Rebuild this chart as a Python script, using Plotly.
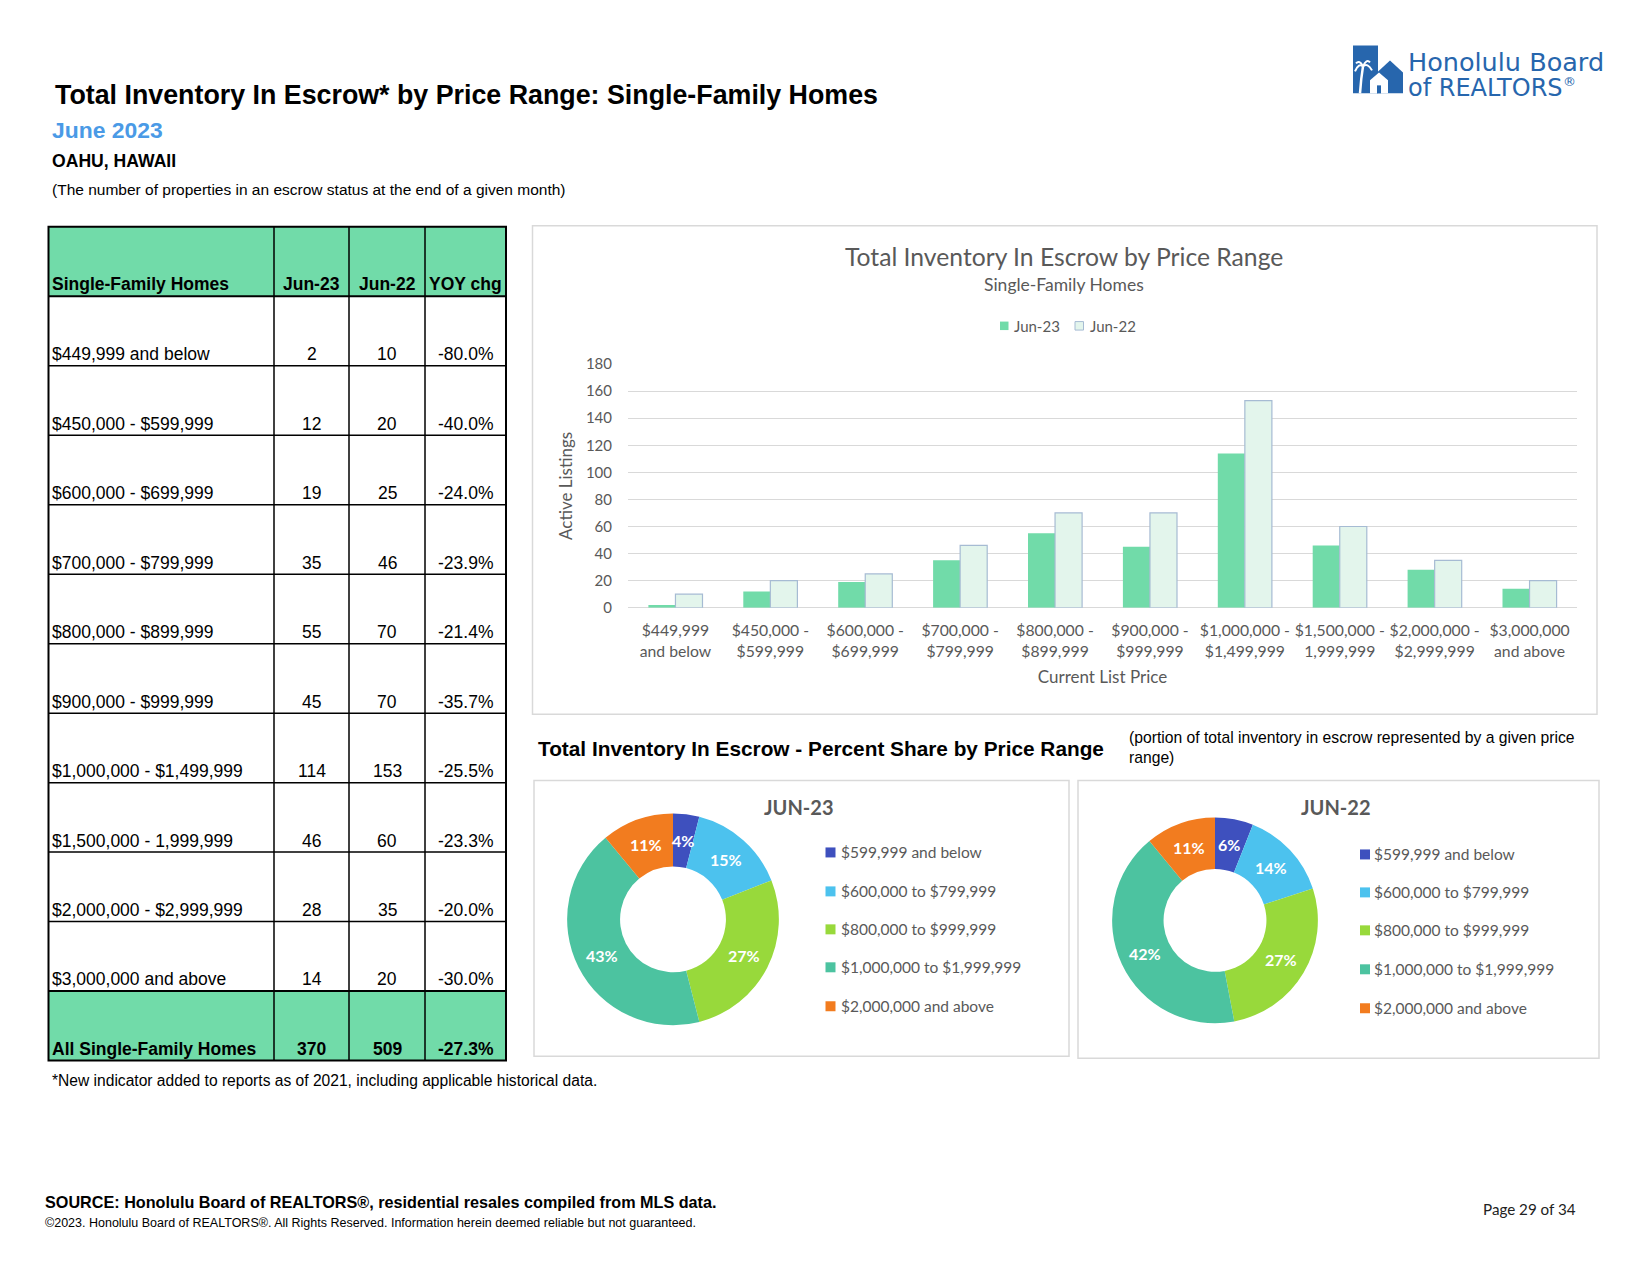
import math
import plotly.graph_objects as go

W, H = 1650, 1275

# ---------------- data ----------------
price_ranges = ["$449,999 and below", "$450,000 - $599,999", "$600,000 - $699,999",
                "$700,000 - $799,999", "$800,000 - $899,999", "$900,000 - $999,999",
                "$1,000,000 - $1,499,999", "$1,500,000 - 1,999,999",
                "$2,000,000 - $2,999,999", "$3,000,000 and above"]
bar_labels = ["$449,999<br>and below", "$450,000 -<br>$599,999", "$600,000 -<br>$699,999",
              "$700,000 -<br>$799,999", "$800,000 -<br>$899,999", "$900,000 -<br>$999,999",
              "$1,000,000 -<br>$1,499,999", "$1,500,000 -<br>1,999,999",
              "$2,000,000 -<br>$2,999,999", "$3,000,000<br>and above"]
jun23 = [2, 12, 19, 35, 55, 45, 114, 46, 28, 14]
jun22 = [10, 20, 25, 46, 70, 70, 153, 60, 35, 20]
yoy = ["-80.0%", "-40.0%", "-24.0%", "-23.9%", "-21.4%", "-35.7%", "-25.5%",
       "-23.3%", "-20.0%", "-30.0%"]
total_label = "All Single-Family Homes"
total_jun23 = 370
total_jun22 = 509
total_yoy = "-27.3%"
table_header = ["Single-Family Homes", "Jun-23", "Jun-22", "YOY chg"]
series_names = ["Jun-23", "Jun-22"]
y_ticks = [0, 20, 40, 60, 80, 100, 120, 140, 160, 180]

share_labels = ["$599,999 and below", "$600,000 to $799,999", "$800,000 to $999,999",
                "$1,000,000 to $1,999,999", "$2,000,000 and above"]
share_jun23 = [4, 15, 27, 43, 11]
share_jun22 = [6, 14, 27, 42, 11]

# ---------------- styles ----------------
ARIAL = "Liberation Sans, Arial, sans-serif"
CAL = "Lato, Open Sans, sans-serif"
GRAY = "#595959"
GREEN = "#71DBA9"
LIGHT = "#E3F5EC"
LIGHT_LINE = "#A6BBD3"
share_colors = ["#3E50BE", "#4CC2EE", "#98D93B", "#4CC3A0", "#F27C1F"]
BOX = "#D9D9D9"

# vertical calibration of the page layout
SY, OY = 1.0131, -9.67


def X(px):
    return px / W


def Y(py):
    return 1 - (py * SY + OY) / H


shapes = []
anns = []


def txt(x, y, text, size, color="black", family=ARIAL, xanchor="left", yanchor="middle"):
    anns.append(dict(x=X(x), y=Y(y), xref="paper", yref="paper", text=text,
                     showarrow=False, xanchor=xanchor, yanchor=yanchor,
                     font=dict(size=size, color=color, family=family), align="left"))


def rect(x0, y0, x1, y1, fill=None, line=None, lw=1.0, layer="above"):
    shapes.append(dict(type="rect", xref="paper", yref="paper",
                       x0=X(x0), x1=X(x1), y0=Y(y1), y1=Y(y0),
                       fillcolor=fill if fill else "rgba(0,0,0,0)",
                       line=dict(color=line if line else "rgba(0,0,0,0)", width=lw if line else 0),
                       layer=layer))


def hline(x0, x1, y, lw=1.5, color="black"):
    shapes.append(dict(type="line", xref="paper", yref="paper", x0=X(x0), x1=X(x1),
                       y0=Y(y), y1=Y(y), line=dict(color=color, width=lw)))


def vline(x, y0, y1, lw=1.5, color="black"):
    shapes.append(dict(type="line", xref="paper", yref="paper", x0=X(x), x1=X(x),
                       y0=Y(y0), y1=Y(y1), line=dict(color=color, width=lw)))


# ---------------- page header ----------------
txt(53, 95, "<b>Total Inventory In Escrow* by Price Range: Single-Family Homes</b>", 26.8)
txt(49.5, 130, "<b>June 2023</b>", 22.9, color="#4A9AE6")
txt(49.5, 161, "<b>OAHU, HAWAII</b>", 17.6)
txt(49.5, 189.5, "(The number of properties in an escrow status at the end of a given month)", 15.5)

# logo
LOGO = "#2766AD"
rect(1353, 45, 1378, 93, fill=LOGO)
shapes.append(dict(type="path", xref="paper", yref="paper", fillcolor=LOGO, line=dict(width=0),
                   path=f"M {X(1377)},{Y(93)} L {X(1377)},{Y(72)} L {X(1390)},{Y(60)} "
                        f"L {X(1403)},{Y(72)} L {X(1403)},{Y(93)} Z"))
shapes.append(dict(type="path", xref="paper", yref="paper", fillcolor="white", line=dict(width=0),
                   path=f"M {X(1370)},{Y(93)} L {X(1370)},{Y(80)} L {X(1379)},{Y(72)} "
                        f"L {X(1388)},{Y(80)} L {X(1388)},{Y(93)} Z"))
rect(1377, 85, 1381, 93, fill=LOGO)
shapes.append(dict(type="path", xref="paper", yref="paper", line=dict(color="white", width=2.5),
                   path=f"M {X(1360)},{Y(93)} Q {X(1361)},{Y(78)} {X(1363)},{Y(66)}"))
for (ex, ey) in [(1355, 71), (1356, 63), (1370, 62), (1372, 70)]:
    shapes.append(dict(type="path", xref="paper", yref="paper", line=dict(color="white", width=2),
                       path=f"M {X(1363)},{Y(66)} Q {X((1363 + ex) / 2)},{Y(min(ey, 66) - 4)} {X(ex)},{Y(ey)}"))
txt(1406, 61.5, "Honolulu Board", 25.5, color=LOGO, family="DejaVu Sans")
txt(1406, 87.5, "of REALTORS", 24, color=LOGO, family="DejaVu Sans")
txt(1561, 81, "®", 13, color=LOGO, family="DejaVu Sans")

# ---------------- table ----------------
cx = [48.5, 274, 349, 425, 506]
t_top = 226.6
h_bot = 296.2
row_h = 69.56
d_bot = h_bot + row_h * len(price_ranges)
t_bot = d_bot + row_h

rect(cx[0], t_top, cx[-1], h_bot, fill=GREEN, layer="below")
rect(cx[0], d_bot, cx[-1], t_bot, fill=GREEN, layer="below")
for i in range(len(price_ranges) + 1):
    yy = h_bot + i * row_h
    hline(cx[0], cx[-1], yy, lw=2 if i in (0, len(price_ranges)) else 1.5)
for xx in cx[1:-1]:
    vline(xx, t_top, t_bot, lw=1.5)
rect(cx[0], t_top, cx[-1], t_bot, line="black", lw=2)

col_c = [(cx[i] + cx[i + 1]) / 2 for i in range(4)]
FS = 17.5
ty = h_bot - 12.5
txt(49.5, ty, "<b>" + table_header[0] + "</b>", FS)
for j in range(1, 4):
    txt(col_c[j], ty, "<b>" + table_header[j] + "</b>", FS, xanchor="center")
for i, lab in enumerate(price_ranges):
    yy = h_bot + (i + 1) * row_h - 11.6
    txt(49.5, yy, lab, FS)
    txt(col_c[1], yy, str(jun23[i]), FS, xanchor="center")
    txt(col_c[2], yy, str(jun22[i]), FS, xanchor="center")
    txt(col_c[3], yy, yoy[i], FS, xanchor="center")
yy = t_bot - 11.6
txt(49.5, yy, "<b>" + total_label + "</b>", FS)
txt(col_c[1], yy, f"<b>{total_jun23}</b>", FS, xanchor="center")
txt(col_c[2], yy, f"<b>{total_jun22}</b>", FS, xanchor="center")
txt(col_c[3], yy, f"<b>{total_yoy}</b>", FS, xanchor="center")

# ---------------- bar chart ----------------
rect(532.5, 225.5, 1597, 714.6, line=BOX, lw=1.5, layer="below")
txt(1064, 256, "Total Inventory In Escrow by Price Range", 24.7, color=GRAY, family=CAL, xanchor="center")
txt(1064, 284.6, "Single-Family Homes", 17.5, color=GRAY, family=CAL, xanchor="center")
# legend
rect(1000, 321.5, 1008.5, 330, fill=GREEN)
txt(1012, 325.7, series_names[0], 15, color=GRAY, family=CAL)
rect(1075, 321.5, 1083.5, 330, fill=LIGHT, line=LIGHT_LINE, lw=1)
txt(1088, 325.7, series_names[1], 15, color=GRAY, family=CAL)

fig = go.Figure()
fig.add_trace(go.Bar(x=bar_labels, y=jun23, name=series_names[0],
                     marker=dict(color=GREEN, line=dict(width=0)), showlegend=False))
fig.add_trace(go.Bar(x=bar_labels, y=jun22, name=series_names[1],
                     marker=dict(color=LIGHT, line=dict(color=LIGHT_LINE, width=1.2)),
                     showlegend=False))

# ---------------- donuts ----------------
txt(536, 749.4, "<b>Total Inventory In Escrow - Percent Share by Price Range</b>", 20.8)
txt(1127, 738, "(portion of total inventory in escrow represented by a given price", 15.7)
txt(1127, 758, "range)", 15.7)

rect(534, 781, 1069, 1057, line=BOX, lw=1.5, layer="below")
rect(1078, 781, 1599, 1059, line=BOX, lw=1.5, layer="below")

txt(799, 808, "<b>JUN-23</b>", 20, color=GRAY, family=CAL, xanchor="center")
txt(1336, 808, "<b>JUN-22</b>", 20, color=GRAY, family=CAL, xanchor="center")


def donut(vals, cxp, cyp, r):
    fig.add_trace(go.Pie(values=vals, labels=share_labels, hole=0.5, sort=False,
                         direction="clockwise", rotation=0,
                         marker=dict(colors=share_colors, line=dict(width=0)),
                         textinfo="none",
                         domain=dict(x=[X(cxp - r), X(cxp + r)], y=[Y(cyp + r), Y(cyp - r)]),
                         showlegend=False, hoverinfo="label+percent"))
    # percentage labels at the middle of each ring segment
    tot = float(sum(vals))
    cum = 0.0
    rm = r * 0.75
    for v in vals:
        mid = (cum + v / 2.0) / tot * 2 * math.pi
        cum += v
        txt(cxp + rm * math.sin(mid), cyp - rm * math.cos(mid), f"<b>{v}%</b>", 16,
            color="white", family=CAL, xanchor="center")


donut(share_jun23, 673, 920, 106)
donut(share_jun22, 1215, 921, 103)


def share_legend(mx, tx, ys):
    for lab, col, yy in zip(share_labels, share_colors, ys):
        rect(mx - 5, yy - 5, mx + 5, yy + 5, fill=col)
        txt(tx, yy, lab, 15.5, color=GRAY, family=CAL)


share_legend(830.5, 839, [853, 892, 930, 968, 1007])
share_legend(1365, 1372, [855, 893, 931, 970, 1009])

# ---------------- footer ----------------
txt(49.5, 1081, "*New indicator added to reports as of 2021, including applicable historical data.", 15.6)
txt(43, 1202.6, "<b>SOURCE: Honolulu Board of REALTORS®, residential resales compiled from MLS data.</b>", 16.2)
txt(43, 1223.7, "©2023. Honolulu Board of REALTORS®. All Rights Reserved. Information herein deemed reliable but not guaranteed.", 12.5)
txt(1578, 1210, "Page 29 of 34", 15.2, color="#222222", family=CAL, xanchor="right")

fig.update_layout(
    width=W, height=H, autosize=False,
    margin=dict(l=0, r=0, t=0, b=0),
    paper_bgcolor="white", plot_bgcolor="white",
    barmode="group", bargap=0.43, bargroupgap=0,
    showlegend=False,
    shapes=shapes, annotations=anns,
    xaxis=dict(domain=[X(628), X(1577)], anchor="y", showgrid=False, showline=False,
               ticks="", ticklabelstandoff=12,
               tickfont=dict(family=CAL, size=15.75, color=GRAY),
               title=dict(text="Current List Price", font=dict(family=CAL, size=17, color=GRAY),
                          standoff=12),
               fixedrange=True),
    yaxis=dict(domain=[Y(608), Y(364)], anchor="x", range=[0, 180], tickvals=y_ticks,
               showgrid=True, gridcolor=BOX, gridwidth=1, zeroline=True, zerolinecolor=BOX,
               zerolinewidth=1, showline=False, ticks="", ticklabelstandoff=15,
               tickfont=dict(family=CAL, size=15, color=GRAY),
               title=dict(text="Active Listings", font=dict(family=CAL, size=17, color=GRAY),
                          standoff=8),
               fixedrange=True),
    font=dict(family=ARIAL),
)

fig.write_html("out.html", config={"displayModeBar": False},
               post_script="document.body.style.margin='0px';")
